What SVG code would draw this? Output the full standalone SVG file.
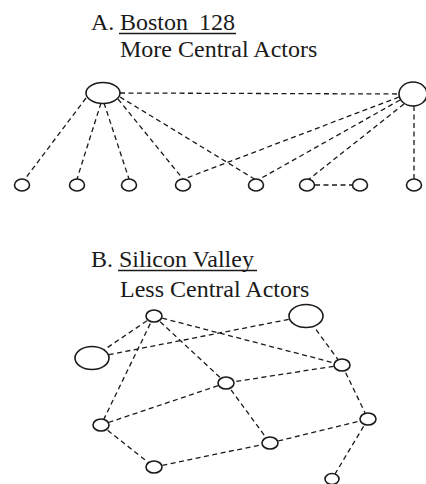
<svg xmlns="http://www.w3.org/2000/svg" width="426" height="484" viewBox="0 0 426 484">
  <style>
    .bg { fill: #ffffff; }
    .title { font-family: "Liberation Serif", "Times New Roman", serif; font-size: 24px; fill: #1a1a1a; }
    .ul { stroke: #1a1a1a; stroke-width: 1.3; }
    .edge { stroke: #1a1a1a; stroke-width: 1.3; stroke-dasharray: 5 3.5; fill: none; }
    .node { fill: #ffffff; stroke: #1a1a1a; stroke-width: 1.6; }
  </style>
  <rect class="bg" x="0" y="0" width="426" height="484"/>

  <!-- Panel A headings -->
  <g id="heading-a">
    <text class="title" x="91" y="30">A.</text>
    <text class="title" x="120" y="30">Boston</text>
    <text class="title" x="199" y="30">128</text>
    <line class="ul" x1="119" y1="33.5" x2="236" y2="33.5"/>
    <text class="title" x="120" y="57">More Central Actors</text>
  </g>

  <!-- Panel A connectors -->
  <g id="edges-a">
    <line class="edge" x1="120" y1="93" x2="399" y2="94"/>
    <line class="edge" x1="86" y1="98" x2="25" y2="179"/>
    <line class="edge" x1="101" y1="103" x2="77" y2="179"/>
    <line class="edge" x1="104" y1="103" x2="129" y2="179"/>
    <line class="edge" x1="118" y1="99" x2="183" y2="179"/>
    <line class="edge" x1="120" y1="97" x2="256" y2="180"/>
    <line class="edge" x1="399" y1="97" x2="184" y2="179"/>
    <line class="edge" x1="400" y1="100" x2="258" y2="180"/>
    <line class="edge" x1="404" y1="104" x2="308" y2="180"/>
    <line class="edge" x1="414" y1="106" x2="414" y2="179"/>
    <line class="edge" x1="315" y1="185" x2="353" y2="185"/>
  </g>

  <!-- Panel A nodes -->
  <g id="a-hub-left"><ellipse class="node" cx="103" cy="93" rx="17" ry="10.5"/></g>
  <g id="a-hub-right"><ellipse class="node" cx="413" cy="94" rx="14" ry="12"/></g>
  <g id="a-n1"><ellipse class="node" cx="22" cy="185" rx="7.5" ry="6"/></g>
  <g id="a-n2"><ellipse class="node" cx="77" cy="185" rx="7.5" ry="6"/></g>
  <g id="a-n3"><ellipse class="node" cx="129" cy="185" rx="7.5" ry="6"/></g>
  <g id="a-n4"><ellipse class="node" cx="183" cy="185" rx="7.5" ry="6"/></g>
  <g id="a-n5"><ellipse class="node" cx="256" cy="185" rx="7.5" ry="6"/></g>
  <g id="a-n6"><ellipse class="node" cx="307" cy="185" rx="7.5" ry="6"/></g>
  <g id="a-n7"><ellipse class="node" cx="360" cy="185" rx="7.5" ry="6"/></g>
  <g id="a-n8"><ellipse class="node" cx="414" cy="185" rx="7.5" ry="6"/></g>

  <!-- Panel B headings -->
  <g id="heading-b">
    <text class="title" x="91" y="267">B.</text>
    <text class="title" x="119" y="267">Silicon Valley</text>
    <line class="ul" x1="118" y1="270.5" x2="257" y2="270.5"/>
    <text class="title" x="120" y="297">Less Central Actors</text>
  </g>

  <!-- Panel B connectors -->
  <g id="edges-b">
    <line class="edge" x1="154" y1="316" x2="92" y2="358"/>
    <line class="edge" x1="154" y1="316" x2="101" y2="425"/>
    <line class="edge" x1="154" y1="316" x2="226" y2="383"/>
    <line class="edge" x1="154" y1="316" x2="342" y2="365"/>
    <line class="edge" x1="92" y1="358" x2="306" y2="316"/>
    <line class="edge" x1="306" y1="316" x2="342" y2="365"/>
    <line class="edge" x1="342" y1="365" x2="226" y2="383"/>
    <line class="edge" x1="342" y1="365" x2="368" y2="419"/>
    <line class="edge" x1="226" y1="383" x2="101" y2="425"/>
    <line class="edge" x1="226" y1="383" x2="270" y2="443"/>
    <line class="edge" x1="101" y1="425" x2="154" y2="467"/>
    <line class="edge" x1="154" y1="467" x2="270" y2="443"/>
    <line class="edge" x1="270" y1="443" x2="368" y2="419"/>
    <line class="edge" x1="368" y1="419" x2="332" y2="479"/>
  </g>

  <!-- Panel B nodes -->
  <g id="b-n1"><ellipse class="node" cx="154" cy="316" rx="8" ry="6"/></g>
  <g id="b-hub-right"><ellipse class="node" cx="306" cy="316" rx="17" ry="11.5"/></g>
  <g id="b-hub-left"><ellipse class="node" cx="92" cy="358" rx="17" ry="11.5"/></g>
  <g id="b-n4"><ellipse class="node" cx="342" cy="365" rx="8" ry="6"/></g>
  <g id="b-n5"><ellipse class="node" cx="226" cy="383" rx="8" ry="6"/></g>
  <g id="b-n6"><ellipse class="node" cx="101" cy="425" rx="8" ry="6"/></g>
  <g id="b-n7"><ellipse class="node" cx="368" cy="419" rx="8" ry="6"/></g>
  <g id="b-n8"><ellipse class="node" cx="270" cy="443" rx="8" ry="6"/></g>
  <g id="b-n9"><ellipse class="node" cx="154" cy="467" rx="8" ry="6"/></g>
  <g id="b-n10"><ellipse class="node" cx="332" cy="479" rx="7" ry="5.5"/></g>
</svg>
